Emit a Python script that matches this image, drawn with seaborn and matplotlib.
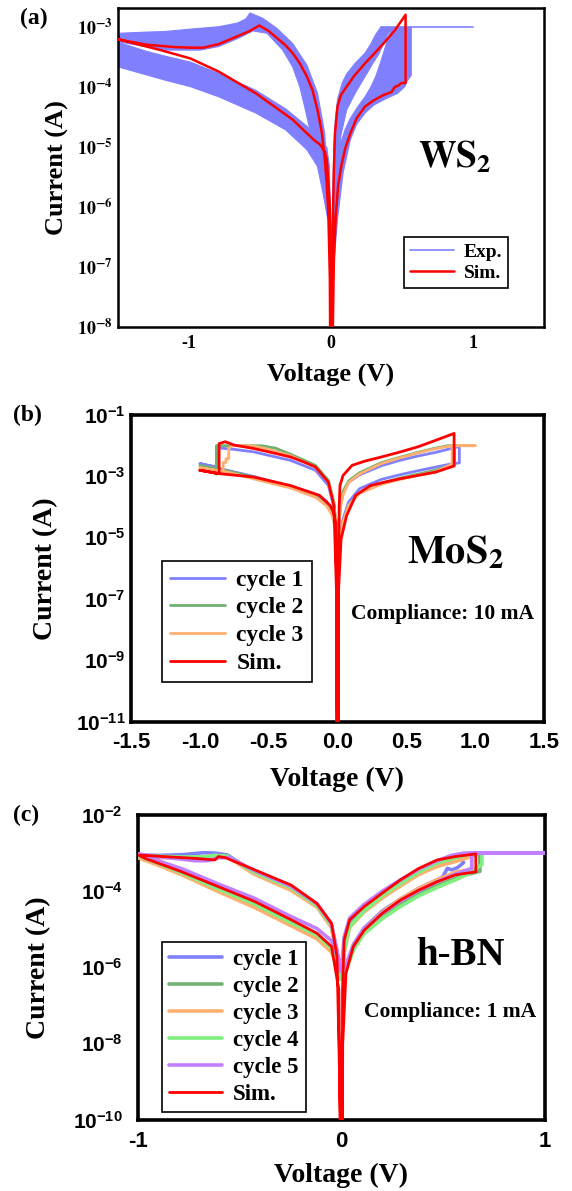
import numpy as np
import pandas as pd
import matplotlib
matplotlib.use("Agg")
import matplotlib.pyplot as plt
import seaborn as sns
from matplotlib.font_manager import FontProperties
from matplotlib.ticker import MultipleLocator, NullLocator

sns.set_theme(style="white")
plt.rcParams["font.family"] = ["Liberation Serif", "DejaVu Serif"]
plt.rcParams["mathtext.fontset"] = "custom"
plt.rcParams["mathtext.rm"] = "Liberation Sans:bold"
plt.rcParams["mathtext.bf"] = "Liberation Sans:bold"
plt.rcParams["mathtext.it"] = "Liberation Sans:bold"
plt.rcParams["axes.edgecolor"] = "black"
plt.rcParams["text.color"] = "black"
plt.rcParams["axes.labelcolor"] = "black"
plt.rcParams["xtick.color"] = "black"
plt.rcParams["ytick.color"] = "black"

# ===================== DATA (V in volts, log10 of current in A) =====================
# ---- panel (a) WS2 ----
a_sim_v = [0.008, 0.012, 0.015, 0.020, 0.028, 0.046, 0.070, 0.110, 0.160, 0.240, 0.300, 0.370, 0.450, 0.525,
           0.525, 0.496, 0.475, 0.447, 0.426, 0.369, 0.300, 0.240, 0.180, 0.136, 0.100, 0.072, 0.050, 0.033, 0.020, 0.013, 0.010,
           -0.003, -0.005, -0.010, -0.018, -0.030, -0.044, -0.080, -0.120, -0.200, -0.270, -0.400, -0.530, -0.660, -0.790, -0.990, -1.200, -1.500,
           -1.300, -1.100, -0.990, -0.900, -0.790, -0.680, -0.580, -0.505, -0.440, -0.380, -0.320, -0.270, -0.220, -0.170, -0.130, -0.095, -0.065, -0.044, -0.030, -0.018, -0.008, -0.004]
a_sim_logi = [-9.0, -6.8, -6.0, -5.4, -4.77, -4.32, -4.13, -3.99, -3.82, -3.60, -3.45, -3.27, -3.05, -2.79,
              -3.93, -3.93, -3.97, -4.00, -4.08, -4.13, -4.22, -4.32, -4.52, -4.77, -5.02, -5.32, -5.65, -6.16, -6.9, -8.0, -9.0,
              -9.0, -6.43, -5.9, -5.6, -5.2, -5.07, -4.95, -4.88, -4.70, -4.54, -4.32, -4.10, -3.92, -3.74, -3.52, -3.38, -3.20,
              -3.29, -3.33, -3.34, -3.34, -3.28, -3.17, -3.07, -2.97, -3.06, -3.18, -3.30, -3.43, -3.60, -3.82, -4.05, -4.38, -4.75, -5.2, -5.6, -6.16, -7.2, -9.0]

a_band1_v = [-1.5, -1.3, -1.17, -0.99, -0.79, -0.66, -0.60, -0.57, -0.54, -0.48, -0.38, -0.27, -0.17, -0.095, -0.044, -0.018, -0.004,
             -0.012, -0.026, -0.056, -0.095, -0.133, -0.18, -0.22, -0.27, -0.34, -0.45, -0.55, -0.65, -0.79, -0.92, -1.17, -1.5]
a_band1_logi = [-3.10, -3.08, -3.07, -3.03, -2.99, -2.93, -2.86, -2.76, -2.79, -2.85, -3.02, -3.27, -3.63, -4.10, -4.77, -5.88, -6.4,
                -6.3, -6.16, -5.77, -5.32, -4.88, -4.38, -3.99, -3.66, -3.38, -3.10, -3.06, -3.18, -3.32, -3.38, -3.38, -3.24]
a_band2_v = [-1.5, -1.3, -1.17, -0.99, -0.79, -0.53, -0.32, -0.17, -0.07, -0.03, -0.012, -0.004,
             -0.006, -0.018, -0.044, -0.095, -0.17, -0.32, -0.53, -0.79, -0.99, -1.17, -1.5]
a_band2_logi = [-3.25, -3.40, -3.48, -3.58, -3.77, -4.05, -4.36, -4.65, -4.90, -5.00, -5.30, -6.2,
                -7.0, -6.16, -5.66, -5.32, -5.04, -4.71, -4.43, -4.16, -3.99, -3.88, -3.66]
a_band3_v = [0.004, 0.012, 0.020, 0.030, 0.046, 0.08, 0.11, 0.17, 0.24, 0.28, 0.315, 0.35, 0.43,
             0.405, 0.37, 0.34, 0.29, 0.24, 0.17, 0.11, 0.07, 0.046, 0.025, 0.010]
a_band3_logi = [-6.4, -5.9, -5.0, -4.55, -4.2, -3.92, -3.78, -3.60, -3.43, -3.28, -3.12, -3.0, -3.0,
                -3.1, -3.27, -3.43, -3.62, -3.82, -4.1, -4.38, -4.8, -5.3, -5.88, -6.5]
a_band4_v = [0.010, 0.02, 0.035, 0.059, 0.10, 0.136, 0.19, 0.24, 0.28, 0.315, 0.35, 0.39, 0.43, 0.565,
             0.565, 0.535, 0.52, 0.47, 0.37, 0.30, 0.24, 0.18, 0.136, 0.085, 0.046, 0.025, 0.012]
a_band4_logi = [-6.5, -5.9, -5.35, -5.0, -4.7, -4.52, -4.32, -4.16, -4.0, -3.82, -3.58, -3.27, -3.0, -3.0,
                -3.8, -3.9, -3.99, -4.10, -4.21, -4.30, -4.43, -4.62, -4.88, -5.43, -6.2, -6.8, -6.8]
a_comp_v = [0.35, 1.0]
a_comp_logi = [-3.0, -3.0]

a_xticks = [-1, 0, 1]
a_xticklabels = ["-1", "0", "1"]
a_yexp = [-8, -7, -6, -5, -4, -3]

# ---- panel (b) MoS2 ----
b_sim_v = [0.004, 0.008, 0.012, 0.018, 0.040, 0.106, 0.200, 0.317, 0.450, 0.582, 0.710, 0.847,
           0.847, 0.714, 0.582, 0.450, 0.340, 0.238, 0.132, 0.066, 0.026, 0.008, 0.003,
           -0.003, -0.008, -0.013, -0.030, -0.053, -0.130, -0.340, -0.610, -0.860, -1.000,
           -0.860, -0.860, -0.815, -0.750, -0.610, -0.480, -0.340, -0.250, -0.160, -0.066, -0.026, -0.008, -0.003]
b_sim_logi = [-12, -6.0, -4.0, -3.3, -2.97, -2.64, -2.50, -2.37, -2.21, -2.04, -1.83, -1.60,
              -2.66, -2.86, -2.97, -3.08, -3.19, -3.30, -3.62, -4.28, -5.04, -6.68, -12,
              -12, -6.0, -4.50, -4.15, -3.95, -3.62, -3.30, -3.02, -2.91, -2.80,
              -2.91, -1.93, -1.87, -1.98, -2.09, -2.22, -2.37, -2.52, -2.69, -3.19, -3.95, -6.68, -12]
b_c1_v = [0.004, 0.010, 0.020, 0.040, 0.080, 0.160, 0.320, 0.450, 0.580, 0.710, 0.870, 0.885,
          0.885, 0.820, 0.710, 0.580, 0.450, 0.317, 0.160, 0.080, 0.040, 0.015, 0.004,
          -0.004, -0.015, -0.040, -0.080, -0.160, -0.340, -0.610, -0.860, -1.000,
          -0.870, -0.870, -0.750, -0.610, -0.340, -0.160, -0.066, -0.026, -0.010, -0.004]
b_c1_logi = [-5.3, -4.6, -4.0, -3.55, -3.20, -2.95, -2.65, -2.48, -2.34, -2.22, -2.04, -2.03,
             -2.56, -2.60, -2.70, -2.82, -2.95, -3.10, -3.40, -3.84, -4.40, -5.00, -5.3,
             -5.3, -4.7, -4.1, -3.80, -3.58, -3.33, -3.00, -2.74, -2.58,
             -2.70, -2.07, -2.12, -2.20, -2.48, -2.80, -3.30, -4.00, -4.70, -5.3]
b_c2_v = [0.004, 0.010, 0.020, 0.040, 0.080, 0.160, 0.320, 0.450, 0.580, 0.710, 0.800, 0.850,
          0.850, 0.710, 0.580, 0.450, 0.317, 0.160, 0.080, 0.040, 0.015, 0.004,
          -0.004, -0.015, -0.040, -0.080, -0.160, -0.340, -0.610, -0.870, -1.000,
          -0.880, -0.880, -0.550, -0.450, -0.340, -0.160, -0.066, -0.026, -0.010, -0.004]
b_c2_logi = [-5.2, -4.5, -3.95, -3.50, -3.15, -2.88, -2.55, -2.38, -2.22, -2.08, -2.00, -2.00,
             -2.62, -2.80, -2.93, -3.06, -3.22, -3.52, -3.95, -4.50, -5.00, -5.2,
             -5.2, -4.6, -4.2, -3.92, -3.65, -3.35, -3.02, -2.75, -2.64,
             -2.93, -2.00, -2.00, -2.08, -2.28, -2.64, -3.13, -3.84, -4.60, -5.2]
b_c3_v = [0.004, 0.010, 0.020, 0.040, 0.080, 0.160, 0.320, 0.450, 0.580, 0.710, 0.800, 0.850, 1.000,
          0.833, 0.833, 0.710, 0.580, 0.450, 0.317, 0.160, 0.080, 0.040, 0.015, 0.004,
          -0.004, -0.015, -0.040, -0.080, -0.160, -0.340, -0.610, -0.800, -1.000,
          -0.830, -0.830, -0.810, -0.810, -0.790, -0.790, -0.760, -0.620, -0.500, -0.340, -0.160, -0.066, -0.026, -0.010, -0.004]
b_c3_logi = [-5.3, -4.6, -4.05, -3.60, -3.20, -2.92, -2.58, -2.40, -2.24, -2.10, -2.02, -2.00, -2.00,
             -2.00, -2.60, -2.85, -2.97, -3.10, -3.26, -3.55, -3.95, -4.50, -5.00, -5.3,
             -5.3, -4.7, -4.25, -3.95, -3.68, -3.38, -3.08, -2.86, -2.72,
             -2.85, -2.55, -2.55, -2.42, -2.42, -2.08, -2.00, -2.00, -2.12, -2.33, -2.70, -3.20, -3.90, -4.60, -5.3]
b_xticks = [-1.5, -1.0, -0.5, 0.0, 0.5, 1.0, 1.5]
b_xticklabels = ["-1.5", "-1.0", "-0.5", "0.0", "0.5", "1.0", "1.5"]
b_yexp = [-11, -10, -9, -8, -7, -6, -5, -4, -3, -2, -1]
b_labels = ["cycle 1", "cycle 2", "cycle 3", "Sim."]

# ---- panel (c) h-BN ----
c_sim_v = [0.004, 0.005, 0.013, 0.040, 0.112, 0.200, 0.290, 0.380, 0.470, 0.560, 0.660,
           0.660, 0.560, 0.470, 0.380, 0.290, 0.200, 0.112, 0.058, 0.022, 0.006, 0.003,
           -0.004, -0.013, -0.049, -0.121, -0.247, -0.426, -0.605, -0.785, -0.964, -1.000,
           -0.874, -0.713, -0.623, -0.605, -0.570, -0.426, -0.247, -0.121, -0.049, -0.022, -0.005, -0.004]
c_sim_logi = [-12, -6.59, -5.28, -4.75, -4.40, -4.05, -3.70, -3.40, -3.18, -3.09, -3.02,
              -3.49, -3.57, -3.75, -3.97, -4.23, -4.58, -5.02, -5.45, -6.15, -8.0, -12,
              -12, -6.59, -5.45, -5.10, -4.75, -4.27, -3.88, -3.49, -3.14, -3.05,
              -3.09, -3.14, -3.18, -3.09, -3.12, -3.44, -3.84, -4.32, -4.84, -5.72, -10, -12]
c_c1_v = [0.004, 0.013, 0.040, 0.110, 0.200, 0.290, 0.380, 0.470, 0.540, 0.600, 0.640, 0.660,
          0.660, 0.600, 0.587, 0.600, 0.570, 0.543, 0.520, 0.498, 0.470, 0.380, 0.290, 0.200, 0.110, 0.060, 0.025, 0.004,
          -0.004, -0.013, -0.049, -0.120, -0.250, -0.430, -0.610, -0.780, -0.900, -1.000,
          -0.900, -0.780, -0.680, -0.620, -0.560, -0.430, -0.250, -0.120, -0.050, -0.022, -0.004]
c_c1_logi = [-6.0, -5.4, -4.85, -4.45, -4.10, -3.78, -3.48, -3.22, -3.10, -3.02, -3.00, -3.00,
             -3.05, -3.10, -3.14, -3.25, -3.38, -3.44, -3.40, -3.62, -3.70, -3.92, -4.20, -4.52, -4.97, -5.38, -5.9, -6.2,
             -6.2, -6.0, -5.55, -5.20, -4.85, -4.35, -3.92, -3.52, -3.25, -3.05,
             -3.06, -3.04, -2.99, -3.00, -3.05, -3.50, -3.93, -4.38, -4.90, -5.60, -6.2]
c_c2_v = [0.004, 0.013, 0.040, 0.110, 0.200, 0.290, 0.380, 0.470, 0.560, 0.620, 0.670, 0.680,
          0.680, 0.600, 0.470, 0.380, 0.290, 0.200, 0.110, 0.060, 0.025, 0.004,
          -0.004, -0.013, -0.049, -0.120, -0.250, -0.430, -0.610, -0.780, -0.900, -1.000,
          -0.900, -0.780, -0.680, -0.620, -0.560, -0.430, -0.250, -0.120, -0.050, -0.022, -0.004]
c_c2_logi = [-6.2, -5.5, -4.90, -4.50, -4.15, -3.84, -3.55, -3.30, -3.12, -3.05, -3.00, -3.00,
             -3.48, -3.58, -3.85, -4.05, -4.32, -4.65, -5.08, -5.50, -6.0, -6.3,
             -6.3, -6.1, -5.50, -5.15, -4.80, -4.32, -3.92, -3.52, -3.28, -3.08,
             -3.10, -3.12, -3.12, -3.08, -3.10, -3.48, -3.88, -4.36, -4.90, -5.60, -6.3]
c_c3_v = [0.004, 0.013, 0.040, 0.110, 0.200, 0.290, 0.380, 0.470, 0.560, 0.620, 0.640,
          0.640, 0.560, 0.470, 0.380, 0.290, 0.200, 0.110, 0.060, 0.025, 0.004,
          -0.004, -0.013, -0.049, -0.120, -0.250, -0.430, -0.610, -0.780, -0.900, -1.000,
          -0.900, -0.780, -0.680, -0.620, -0.560, -0.430, -0.250, -0.120, -0.050, -0.022, -0.004]
c_c3_logi = [-6.3, -5.6, -4.95, -4.55, -4.18, -3.86, -3.56, -3.35, -3.22, -3.12, -3.05,
             -3.42, -3.50, -3.70, -3.92, -4.20, -4.55, -5.00, -5.40, -5.95, -6.3,
             -6.3, -6.1, -5.60, -5.25, -4.90, -4.42, -4.00, -3.58, -3.32, -3.12,
             -3.12, -3.13, -3.10, -3.06, -3.10, -3.55, -3.97, -4.42, -4.95, -5.70, -6.3]
c_c4_v = [0.004, 0.013, 0.040, 0.110, 0.200, 0.290, 0.380, 0.470, 0.560, 0.620, 0.670, 0.690,
          0.690, 0.620, 0.560, 0.470, 0.380, 0.290, 0.200, 0.110, 0.060, 0.025, 0.004,
          -0.004, -0.013, -0.049, -0.120, -0.250, -0.430, -0.610, -0.780, -0.900, -1.000,
          -0.900, -0.780, -0.680, -0.620, -0.560, -0.430, -0.250, -0.120, -0.050, -0.022, -0.004]
c_c4_logi = [-6.2, -5.55, -4.92, -4.52, -4.12, -3.80, -3.50, -3.26, -3.12, -3.04, -3.00, -3.00,
             -3.30, -3.55, -3.70, -3.90, -4.12, -4.40, -4.72, -5.12, -5.52, -6.05, -6.3,
             -6.3, -6.0, -5.50, -5.15, -4.82, -4.33, -3.93, -3.53, -3.27, -3.07,
             -3.08, -3.10, -3.10, -3.06, -3.08, -3.50, -3.90, -4.38, -4.90, -5.65, -6.3]
c_c5_v = [0.004, 0.013, 0.040, 0.110, 0.200, 0.290, 0.380, 0.470, 0.540, 0.600, 1.000,
          0.640, 0.640, 0.560, 0.470, 0.380, 0.290, 0.200, 0.110, 0.060, 0.025, 0.004,
          -0.004, -0.013, -0.049, -0.120, -0.250, -0.430, -0.610, -0.780, -0.900, -1.000,
          -0.920, -0.800, -0.720, -0.660, -0.600, -0.550, -0.430, -0.250, -0.120, -0.050, -0.022, -0.004]
c_c5_logi = [-5.8, -5.2, -4.70, -4.35, -4.00, -3.70, -3.42, -3.20, -3.06, -3.00, -3.00,
             -3.00, -3.40, -3.55, -3.75, -3.98, -4.25, -4.58, -5.00, -5.40, -5.90, -6.1,
             -6.1, -5.8, -5.30, -4.98, -4.66, -4.18, -3.80, -3.42, -3.20, -3.02,
             -3.08, -3.15, -3.20, -3.20, -3.12, -3.12, -3.45, -3.86, -4.33, -4.85, -5.55, -6.1]
c_xticks = [-1, -0.667, -0.333, 0, 0.333, 0.667, 1]
c_xticklabels = ["-1", "", "", "0", "", "", "1"]
c_yexp = [-10, -9, -8, -7, -6, -5, -4, -3, -2]
c_labels = ["cycle 1", "cycle 2", "cycle 3", "cycle 4", "cycle 5", "Sim."]

# ===================== STYLE =====================
BLUE = "#8080ff"
GREEN = "#70b070"
ORANGE = "#ffb070"
LGREEN = "#80ee80"
PURPLE = "#c080ff"
RED = "#ff0000"

SERIF_B = dict(fontfamily="Liberation Serif", fontweight="bold", color="black")


def curve(ax, v, logi, color, lw, label=None, z=3):
    df = pd.DataFrame({"V": v, "I": np.power(10.0, np.asarray(logi, dtype=float))})
    sns.lineplot(data=df, x="V", y="I", sort=False, estimator=None, color=color,
                 linewidth=lw, label=label, ax=ax, zorder=z)


def band(ax, v, logi, color):
    ax.fill(v, np.power(10.0, np.asarray(logi, dtype=float)), color=color, lw=0.8, zorder=1)


def exp_label(e):
    return r"$\mathbf{10^{%d}}$" % e


def legend(ax, anchor, size, spacing, pad):
    h, l = ax.get_legend_handles_labels()
    leg = ax.legend(h, l, loc="lower left", bbox_to_anchor=anchor, borderaxespad=0,
                    prop=FontProperties(family="Liberation Serif", weight="bold", size=size),
                    frameon=True, fancybox=False, edgecolor="black", framealpha=1,
                    handlelength=2.3, handletextpad=0.5, labelspacing=spacing, borderpad=pad)
    leg.get_frame().set_linewidth(1.2)
    for t in leg.get_texts():
        t.set_color("black")
    return leg


fig = plt.figure(figsize=(5.72, 11.91), dpi=100)
W, H = 572.0, 1191.0
axA = fig.add_axes([118 / W, 1 - 327 / H, 426 / W, 319 / H])
axB = fig.add_axes([131 / W, 1 - 722 / H, 413 / W, 307 / H])
axC = fig.add_axes([138 / W, 1 - 1120 / H, 407 / W, 305 / H])
for ax in (axA, axB, axC):
    ax.set_yscale("log")

# ---------------- panel (a) ----------------
for bv, bl in ((a_band1_v, a_band1_logi), (a_band2_v, a_band2_logi),
               (a_band3_v, a_band3_logi), (a_band4_v, a_band4_logi)):
    band(axA, bv, bl, BLUE)
curve(axA, a_comp_v, a_comp_logi, BLUE, 1.2, label="Exp.", z=2)
curve(axA, a_sim_v, a_sim_logi, RED, 1.8, label="Sim.", z=4)
axA.set_xlim(-1.5, 1.5)
axA.set_ylim(1e-8, 2.1e-3)
axA.set_xticks(a_xticks)
axA.set_xticklabels(a_xticklabels, fontsize=13, **SERIF_B)
axA.xaxis.set_minor_locator(MultipleLocator(0.2))
axA.set_yticks([10.0 ** e for e in a_yexp])
axA.set_yticklabels([exp_label(e) for e in a_yexp], fontsize=13, math_fontfamily="stix", color="black")
axA.yaxis.set_minor_locator(NullLocator())
axA.tick_params(axis="both", which="both", direction="in", length=3, width=1.2, colors="black")
axA.tick_params(axis="x", which="both", pad=6)
axA.tick_params(axis="y", which="both", pad=3.5)
for s in axA.spines.values():
    s.set_linewidth(1.8)
axA.set_xlabel("Voltage (V)", fontsize=19, **SERIF_B)
axA.set_ylabel("Current (A)", fontsize=19, **SERIF_B)
axA.xaxis.set_label_coords(0.5, -0.11)
axA.yaxis.set_label_coords(-0.115, 0.5)
legend(axA, (0.671, 0.122), 14, 0.2, 0.3)
axA.text(0.704, 0.50, r"$\mathbf{WS_2}$", transform=axA.transAxes, fontsize=27,
         math_fontfamily="stix", ha="left", va="baseline", color="black")

# ---------------- panel (b) ----------------
curve(axB, b_c1_v, b_c1_logi, BLUE, 2.0, label=b_labels[0])
curve(axB, b_c2_v, b_c2_logi, GREEN, 2.0, label=b_labels[1])
curve(axB, b_c3_v, b_c3_logi, ORANGE, 2.0, label=b_labels[2])
curve(axB, b_sim_v, b_sim_logi, RED, 2.0, label=b_labels[3], z=4)
axB.set_xlim(-1.5, 1.5)
axB.set_ylim(1e-11, 1e-1)
axB.set_xticks(b_xticks)
axB.set_xticklabels(b_xticklabels, fontsize=16, fontfamily="Liberation Sans", fontweight="bold", color="black")
axB.set_yticks([10.0 ** e for e in b_yexp])
axB.set_yticklabels([exp_label(e) if e % 2 else "" for e in b_yexp], fontsize=15, color="black")
axB.yaxis.set_minor_locator(NullLocator())
axB.xaxis.set_minor_locator(NullLocator())
axB.tick_params(axis="both", which="both", direction="in", length=9, width=2.5, colors="black")
axB.tick_params(axis="x", pad=7)
axB.tick_params(axis="y", pad=4)
for s in axB.spines.values():
    s.set_linewidth(2.6)
axB.set_xlabel("Voltage (V)", fontsize=20, **SERIF_B)
axB.set_ylabel("Current (A)", fontsize=20, **SERIF_B)
axB.xaxis.set_label_coords(0.5, -0.147)
axB.yaxis.set_label_coords(-0.177, 0.5)
legend(axB, (0.075, 0.13), 17, 0.26, 0.35)
axB.text(0.668, 0.518, r"$\mathbf{MoS_2}$", transform=axB.transAxes, fontsize=29,
         math_fontfamily="stix", ha="left", va="baseline", color="black")
axB.text(0.533, 0.335, "Compliance: 10 mA", transform=axB.transAxes, fontsize=15.5,
         ha="left", va="baseline", **SERIF_B)

# ---------------- panel (c) ----------------
curve(axC, c_c1_v, c_c1_logi, BLUE, 2.6, label=c_labels[0])
curve(axC, c_c2_v, c_c2_logi, GREEN, 2.6, label=c_labels[1])
curve(axC, c_c3_v, c_c3_logi, ORANGE, 2.6, label=c_labels[2])
curve(axC, c_c4_v, c_c4_logi, LGREEN, 2.6, label=c_labels[3])
curve(axC, c_c5_v, c_c5_logi, PURPLE, 2.6, label=c_labels[4])
curve(axC, c_sim_v, c_sim_logi, RED, 2.0, label=c_labels[5], z=4)
axC.set_xlim(-1, 1)
axC.set_ylim(1e-10, 1e-2)
axC.set_xticks(c_xticks)
axC.set_xticklabels(c_xticklabels, fontsize=16, fontfamily="Liberation Sans", fontweight="bold", color="black")
axC.set_yticks([10.0 ** e for e in c_yexp])
axC.set_yticklabels([exp_label(e) if e % 2 == 0 else "" for e in c_yexp], fontsize=15, color="black")
axC.yaxis.set_minor_locator(NullLocator())
axC.xaxis.set_minor_locator(NullLocator())
axC.tick_params(axis="both", which="both", direction="in", length=9, width=2.5, colors="black")
axC.tick_params(axis="x", pad=8)
axC.tick_params(axis="y", pad=11)
for s in axC.spines.values():
    s.set_linewidth(2.6)
axC.set_xlabel("Voltage (V)", fontsize=20, **SERIF_B)
axC.set_ylabel("Current (A)", fontsize=20, **SERIF_B)
axC.xaxis.set_label_coords(0.5, -0.141)
axC.yaxis.set_label_coords(-0.214, 0.5)
legend(axC, (0.059, 0.026), 16.5, 0.26, 0.3)
axC.text(0.683, 0.508, "h-BN", transform=axC.transAxes, fontsize=28,
         ha="left", va="baseline", **SERIF_B)
axC.text(0.555, 0.338, "Compliance: 1 mA", transform=axC.transAxes, fontsize=15.5,
         ha="left", va="baseline", **SERIF_B)

# ---------------- panel letters ----------------
fig.text(20 / W, 1 - 8 / H, "(a)", fontsize=17, ha="left", va="top", **SERIF_B)
fig.text(13 / W, 1 - 405 / H, "(b)", fontsize=17, ha="left", va="top", **SERIF_B)
fig.text(13 / W, 1 - 805 / H, "(c)", fontsize=17, ha="left", va="top", **SERIF_B)

fig.savefig("out.png", dpi=100)
